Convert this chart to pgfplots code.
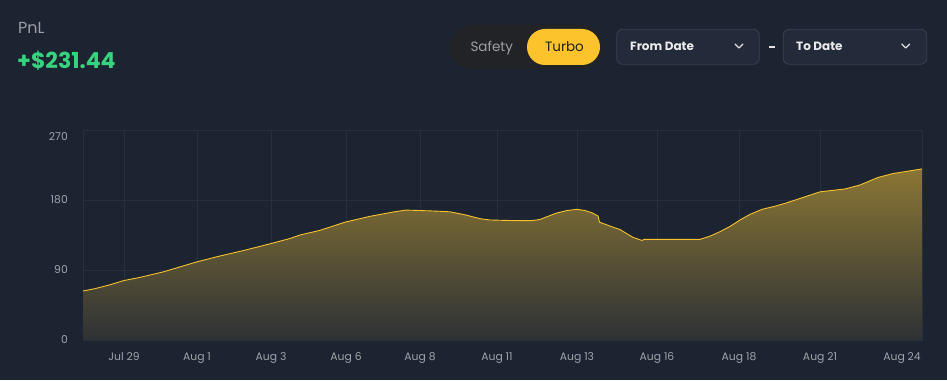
\documentclass[border=0pt]{standalone}
\usepackage{fontspec}
\setmainfont{Poppins}
\usepackage{pgfplots}
\pgfplotsset{compat=1.18}
\definecolor{bgc}{HTML}{1C2331}
\definecolor{gridc}{HTML}{283040}
\definecolor{tickc}{HTML}{A0A4AB}
\definecolor{linec}{HTML}{F8C22C}
\definecolor{filltop}{HTML}{8A7634}
\definecolor{fillbot}{HTML}{2E3135}
\definecolor{greenc}{HTML}{36D47F}
\definecolor{pnlc}{HTML}{9CA0A6}
\definecolor{pillc}{HTML}{212327}
\definecolor{turboc}{HTML}{FCC32D}
\definecolor{boxc}{HTML}{232A39}
\definecolor{boxb}{HTML}{3A4252}
\begin{document}
\begin{tikzpicture}[x=1pt,y=1pt]
\fill[bgc] (0,0) rectangle (947,380);
% header
\node[anchor=base west, inner sep=0, text=pnlc, font=\fontsize{16}{18}\selectfont] at (18,346) {PnL};
\node[anchor=base west, inner sep=0, text=greenc, font=\fontsize{22}{24}\selectfont\bfseries] at (17,311.7) {+\$231.44};
% toggle
\fill[pillc, rounded corners=22pt] (449,311) rectangle (604,355);
\fill[turboc, rounded corners=18pt] (527,315) rectangle (600,351);
\node[anchor=base, inner sep=0, text=pnlc, font=\fontsize{13.5}{15}\selectfont] at (491.7,328.5) {Safety};
\node[anchor=base, inner sep=0, text=black!88, font=\fontsize{13.5}{15}\selectfont] at (564.5,328.5) {Turbo};
% date boxes
\filldraw[fill=boxc, draw=boxb, line width=0.8pt, rounded corners=6pt] (616.7,315.7) rectangle (759.3,350.7);
\node[anchor=base west, inner sep=0, text=white!92!black, font=\fontsize{12}{14}\selectfont\bfseries] at (630,329) {From Date};
\draw[white!88!black, line width=1.3pt, line cap=round, line join=round] (735,336) -- (739,332) -- (743,336);
\draw[white!90!black, line width=1.8pt] (769,333) -- (774.5,333);
\filldraw[fill=boxc, draw=boxb, line width=0.8pt, rounded corners=6pt] (783.3,315.7) rectangle (926.7,350.7);
\node[anchor=base west, inner sep=0, text=white!92!black, font=\fontsize{12}{14}\selectfont\bfseries] at (796,329) {To Date};
\draw[white!88!black, line width=1.3pt, line cap=round, line join=round] (901.7,336) -- (905.7,332) -- (909.7,336);
\begin{axis}[
  at={(83pt,40pt)}, anchor=south west,
  width=839pt, height=210pt, scale only axis,
  xmin=83, xmax=922, ymin=0, ymax=270,
  ytick={0,90,180},
  extra y ticks={270},
  extra y tick style={yticklabel style={yshift=-7pt}},
  xtick={124,197,271,346,420,497,577,657,739,820},
  xticklabels={Jul 29,Aug 1,Aug 3,Aug 6,Aug 8,Aug 11,Aug 13,Aug 16,Aug 18,Aug 21},
  extra x ticks={902},
  extra x tick labels={Aug 24},
  extra x tick style={grid=none},
  grid=major,
  grid style={gridc, line width=0.6pt},
  axis line style={gridc, line width=0.6pt},
  major tick length=0pt,
  /pgf/number format/assume math mode=true,
  tick label style={font=\fontsize{10.8}{12}\selectfont, text=tickc, inner sep=0pt},
  xticklabel style={anchor=base, yshift=-20.7pt},
  yticklabel style={anchor=east, xshift=-15pt},
]
\addplot[draw=none, top color=filltop, bottom color=fillbot] coordinates {
(83,63) (95,66) (110,71) (124,76.5) (140,80.5) (163,87.5) (180,94) (197,100.5)
(220,108) (245,115.5) (271,124) (290,130.5) (300,135) (320,141) (345,151.5)
(370,159) (395,165) (406,167) (420,166.5) (440,165.5) (450,164.8) (465,161)
(480,156) (490,154.3) (505,153.8) (520,153.4) (532,153.5) (540,155) (556,163)
(567,166.5) (577,168) (585,166.5) (592,163.5) (598,159.5) (599.5,151.5)
(610,146.5) (620,142) (633,132) (642,128) (644,129.4) (700,129.4) (710,133.5)
(720,139.3) (730,146) (740,154.3) (750,161.5) (762,168) (775,172) (785,175.7)
(800,182) (820,190.5) (845,194.2) (860,199.3) (878,209) (893,214) (910,217.5)
(922,220)
} \closedcycle;
\addplot[linec, line width=0.9pt, line join=round] coordinates {
(83,63) (95,66) (110,71) (124,76.5) (140,80.5) (163,87.5) (180,94) (197,100.5)
(220,108) (245,115.5) (271,124) (290,130.5) (300,135) (320,141) (345,151.5)
(370,159) (395,165) (406,167) (420,166.5) (440,165.5) (450,164.8) (465,161)
(480,156) (490,154.3) (505,153.8) (520,153.4) (532,153.5) (540,155) (556,163)
(567,166.5) (577,168) (585,166.5) (592,163.5) (598,159.5) (599.5,151.5)
(610,146.5) (620,142) (633,132) (642,128) (644,129.4) (700,129.4) (710,133.5)
(720,139.3) (730,146) (740,154.3) (750,161.5) (762,168) (775,172) (785,175.7)
(800,182) (820,190.5) (845,194.2) (860,199.3) (878,209) (893,214) (910,217.5)
(922,220)
};
\end{axis}
\pgfresetboundingbox
\useasboundingbox (0,0) rectangle (947,380);
\end{tikzpicture}
\end{document}
